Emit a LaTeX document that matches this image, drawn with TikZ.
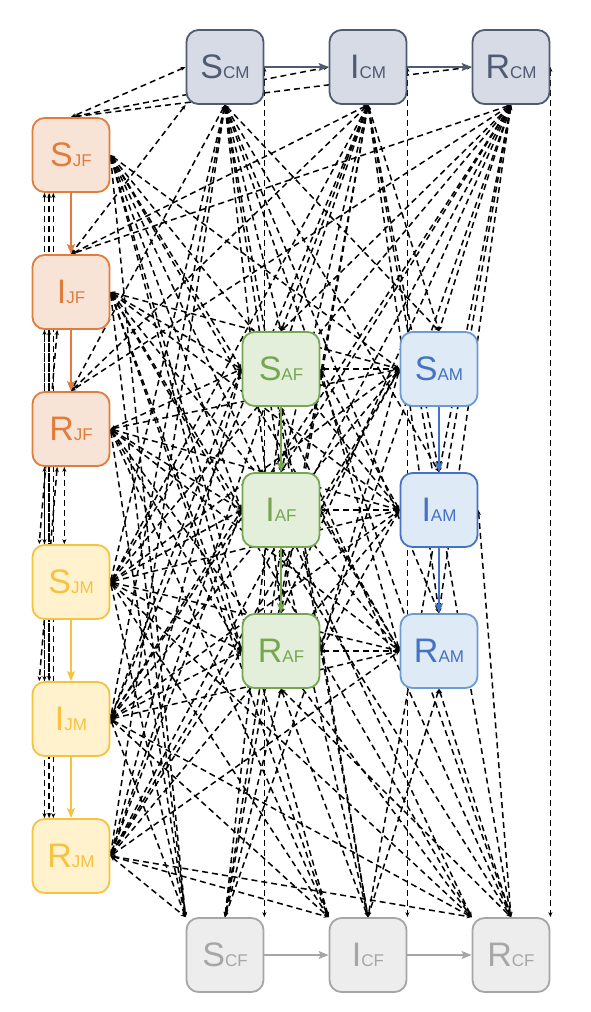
\documentclass[tikz,border=0pt]{standalone}
\usepackage{fontspec}
\setmainfont{Liberation Sans}
\usetikzlibrary{arrows.meta}
\pgfdeclarelayer{background}
\pgfsetlayers{background,main}

\definecolor{cmfill}{RGB}{214,219,229}
\definecolor{cmline}{RGB}{78,91,115}
\definecolor{jffill}{RGB}{248,228,214}
\definecolor{jfline}{RGB}{224,125,60}
\definecolor{jmfill}{RGB}{255,242,205}
\definecolor{jmline}{RGB}{246,194,64}
\definecolor{affill}{RGB}{227,239,218}
\definecolor{afline}{RGB}{118,167,80}
\definecolor{amfill}{RGB}{222,234,246}
\definecolor{amline}{RGB}{108,155,212}
\definecolor{amdark}{RGB}{68,114,196}
\definecolor{cffill}{RGB}{237,237,237}
\definecolor{cfline}{RGB}{166,166,166}

\newcommand{\comp}[2]{{\fontsize{34}{34}\selectfont #1}{\fontsize{17}{17}\selectfont #2}}

\tikzset{
  box/.style={draw, rounded corners=12pt, line width=1.8pt, minimum width=77pt, minimum height=74pt, inner sep=0pt},
  cmbox/.style={box, draw=cmline, fill=cmfill, text=cmline},
  jfbox/.style={box, draw=jfline, fill=jffill, text=jfline},
  jmbox/.style={box, draw=jmline, fill=jmfill, text=jmline},
  afbox/.style={box, draw=afline, fill=affill, text=afline},
  ambox/.style={box, draw=amline, fill=amfill, text=amdark},
  cfbox/.style={box, draw=cfline, fill=cffill, text=cfline},
  flow/.style={line width=1.6pt, -{Stealth[length=10pt,width=8pt,inset=2pt]}},
  link/.style={black, line width=1.5pt, dash pattern=on 6pt off 4pt,
    {Stealth[length=5pt,width=4pt]}-{Stealth[length=5pt,width=4pt]}},
}

\begin{document}
\begin{tikzpicture}[x=1pt,y=-1pt]
\useasboundingbox (0,0) rectangle (590,1012);

% children, male
\node[cmbox] (SCM) at (225,67) {\comp{S}{CM}};
\node[cmbox] (ICM) at (368,67) {\comp{I}{CM}};
\node[cmbox] (RCM) at (511,67) {\comp{R}{CM}};
% juveniles, female
\node[jfbox] (SJF) at (71,155) {\comp{S}{JF}};
\node[jfbox] (IJF) at (71,292) {\comp{I}{JF}};
\node[jfbox] (RJF) at (71,429) {\comp{R}{JF}};
% juveniles, male
\node[jmbox] (SJM) at (71,582) {\comp{S}{JM}};
\node[jmbox] (IJM) at (71,719) {\comp{I}{JM}};
\node[jmbox] (RJM) at (71,856) {\comp{R}{JM}};
% adults, female
\node[afbox] (SAF) at (281,369) {\comp{S}{AF}};
\node[afbox] (IAF) at (281,510) {\comp{I}{AF}};
\node[afbox] (RAF) at (281,651) {\comp{R}{AF}};
% adults, male
\node[ambox] (SAM) at (439,369) {\comp{S}{AM}};
\node[ambox, draw=amdark] (IAM) at (439,510) {\comp{I}{AM}};
\node[ambox] (RAM) at (439,651) {\comp{R}{AM}};
% children, female
\node[cfbox] (SCF) at (225,955) {\comp{S}{CF}};
\node[cfbox] (ICF) at (368,955) {\comp{I}{CF}};
\node[cfbox] (RCF) at (511,955) {\comp{R}{CF}};

% disease flows
\draw[flow, cmline] (SCM) -- (ICM);
\draw[flow, cmline] (ICM) -- (RCM);
\draw[flow, jfline] (SJF) -- (IJF);
\draw[flow, jfline] (IJF) -- (RJF);
\draw[flow, jmline] (SJM) -- (IJM);
\draw[flow, jmline] (IJM) -- (RJM);
\draw[flow, afline] (SAF) -- (IAF);
\draw[flow, afline] (IAF) -- (RAF);
\draw[flow, amdark] (SAM) -- (IAM);
\draw[flow, amdark] (IAM) -- (RAM);
\draw[flow, cfline] (SCF) -- (ICF);
\draw[flow, cfline] (ICF) -- (RCF);

% contacts between groups
\begin{pgfonlayer}{background}
\foreach \a/\b/\p/\q in {
  SCM/SJF/west/north, ICM/SJF/west/north, RCM/SJF/west/north,
  SCM/IJF/south west/north, ICM/IJF/south/north, RCM/IJF/south/north,
  SCM/RJF/south/north, ICM/RJF/south/north, RCM/RJF/south/north,
  SCM/SJM/south/east, ICM/SJM/south/east, RCM/SJM/south/east,
  SCM/IJM/south/east, ICM/IJM/south/east, RCM/IJM/south/east,
  SCM/RJM/south/east, ICM/RJM/south/east, RCM/RJM/south/east,
  SCM/SAF/south/north, ICM/SAF/south/north, RCM/SAF/south/north,
  SCM/IAF/south/north, ICM/IAF/south/north, RCM/IAF/south/north,
  SCM/RAF/south/north, ICM/RAF/south/north, RCM/RAF/south/north,
  SCM/SAM/south/north, ICM/SAM/south/north, RCM/SAM/south/north,
  SCM/IAM/south/north, ICM/IAM/south/north, RCM/IAM/south/north,
  SCM/RAM/south/north, ICM/RAM/south/north, RCM/RAM/south/north,
  SCM/SCF/east/north east, ICM/ICF/east/north east, RCM/RCF/east/north east,
  SCM/ICF/south/north, SCM/RCF/south/north, ICM/SCF/south/north,
  ICM/RCF/south/north, RCM/SCF/south/north, RCM/ICF/south/north,
  SJF/SJM/235/125, SJF/IJM/240/120, SJF/RJM/245/115,
  IJF/SJM/250/130, IJF/IJM/235/125, IJF/RJM/240/120,
  RJF/SJM/260/100, RJF/IJM/250/130, RJF/RJM/235/125,
  SJF/SAF/east/west, IJF/SAF/east/west, RJF/SAF/east/west,
  SJF/IAF/east/west, IJF/IAF/east/west, RJF/IAF/east/west,
  SJF/RAF/east/west, IJF/RAF/east/west, RJF/RAF/east/west,
  SJF/SAM/east/west, IJF/SAM/east/west, RJF/SAM/east/west,
  SJF/IAM/east/west, IJF/IAM/east/west, RJF/IAM/east/west,
  SJF/RAM/east/west, IJF/RAM/east/west, RJF/RAM/east/west,
  SJF/SCF/east/north west, IJF/SCF/east/north west, RJF/SCF/east/north west,
  SJF/ICF/east/north west, IJF/ICF/east/north west, RJF/ICF/east/north west,
  SJF/RCF/east/north west, IJF/RCF/east/north west, RJF/RCF/east/north west,
  SJM/SAF/east/west, IJM/SAF/east/west, RJM/SAF/east/west,
  SJM/IAF/east/west, IJM/IAF/east/west, RJM/IAF/east/west,
  SJM/RAF/east/west, IJM/RAF/east/west, RJM/RAF/east/west,
  SJM/SAM/east/west, IJM/SAM/east/west, RJM/SAM/east/west,
  SJM/IAM/east/west, IJM/IAM/east/west, RJM/IAM/east/west,
  SJM/RAM/east/west, IJM/RAM/east/west, RJM/RAM/east/west,
  SJM/SCF/east/north west, IJM/SCF/east/north west, RJM/SCF/east/north west,
  SJM/ICF/east/north west, IJM/ICF/east/north west, RJM/ICF/east/north west,
  SJM/RCF/east/north west, IJM/RCF/east/north west, RJM/RCF/east/north west,
  SAF/SAM/east/west, IAF/SAM/east/west, RAF/SAM/east/west,
  SAF/IAM/east/west, IAF/IAM/east/west, RAF/IAM/east/west,
  SAF/RAM/east/west, IAF/RAM/east/west, RAF/RAM/east/west,
  SAF/SCF/south/north, IAF/SCF/south/north, RAF/SCF/south/north,
  SAF/ICF/south/north, IAF/ICF/south/north, RAF/ICF/south/north,
  SAF/RCF/south/north, IAF/RCF/south/north, RAF/RCF/south/north,
  IAM/RCF/east/north, RAM/ICF/south/north, RAM/RCF/south/north}
  \draw[link] (\a.\p) -- (\b.\q);
\end{pgfonlayer}

\end{tikzpicture}
\end{document}
